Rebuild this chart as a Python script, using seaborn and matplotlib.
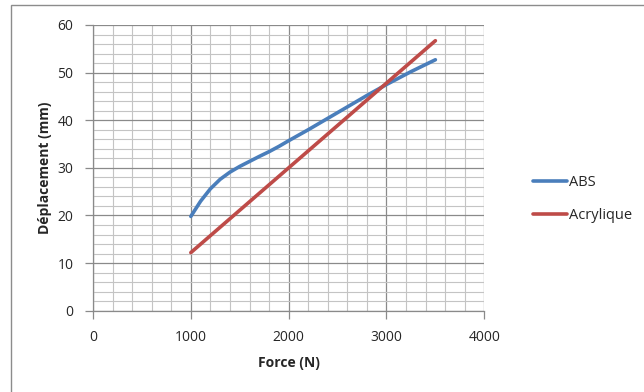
import matplotlib
matplotlib.use("Agg")
import matplotlib.pyplot as plt
from matplotlib.patches import Rectangle
from matplotlib.ticker import MultipleLocator
import pandas as pd
import seaborn as sns

# valeurs
force_abs = [1000, 1100, 1200, 1300, 1400, 1500, 1600, 1700, 1800, 1900, 2000,
             2200, 2400, 2600, 2800, 3000, 3250, 3500]
dep_abs = [19.8, 23.0, 25.6, 27.6, 29.1, 30.3, 31.35, 32.4, 33.4, 34.5, 35.7,
           38.0, 40.4, 42.8, 45.2, 47.5, 50.2, 52.7]

force_acr = [1000, 1500, 2000, 2500, 3000, 3500]
dep_acr = [12.2, 21.1, 30.0, 38.9, 47.8, 56.7]

series = ["ABS", "Acrylique"]
colors = ["#4A7EBB", "#BE4B48"]

df = pd.concat([
    pd.DataFrame({"Force": force_abs, "Dep": dep_abs, "Materiau": series[0]}),
    pd.DataFrame({"Force": force_acr, "Dep": dep_acr, "Materiau": series[1]}),
])

sns.set_style("white")
plt.rcParams["font.family"] = ["Open Sans", "DejaVu Sans"]

fig = plt.figure(figsize=(6.44, 3.92), dpi=100)
ax = fig.add_axes([93 / 644, 1 - 310.7 / 392, (484.3 - 93) / 644, (310.7 - 25) / 392])

# cadre du graphique (style Excel)
fig.patches.append(Rectangle((11 / 644, -0.1), 1.2, 1 - 5 / 392 + 0.1, transform=fig.transFigure,
                             fill=False, edgecolor="#8c8c8c", lw=1.0))

sns.lineplot(data=df, x="Force", y="Dep", hue="Materiau", palette=colors,
             linewidth=2.6, ax=ax, legend=False, sort=True)

ax.set_xlim(0, 4000)
ax.set_ylim(0, 60)
ax.xaxis.set_major_locator(MultipleLocator(1000))
ax.xaxis.set_minor_locator(MultipleLocator(200))
ax.yaxis.set_major_locator(MultipleLocator(10))
ax.yaxis.set_minor_locator(MultipleLocator(2))
ax.grid(which="major", color="#8a8a8a", lw=0.9)
ax.grid(which="minor", color="#c4c4c4", lw=0.8)
ax.set_axisbelow(True)

for s in ["top", "right"]:
    ax.spines[s].set_visible(False)
for s in ["left", "bottom"]:
    ax.spines[s].set_color("#8a8a8a")
    ax.spines[s].set_linewidth(0.9)

ax.tick_params(which="major", direction="out", length=6, width=0.9, color="#8a8a8a",
               labelsize=10, pad=8, left=True, bottom=True)
ax.tick_params(which="minor", length=0)

ax.set_xlabel("Force (N)", fontsize=10, fontweight="bold", labelpad=8)
ax.set_ylabel("Déplacement (mm)", fontsize=10, fontweight="bold", labelpad=4)

handles = [plt.Line2D([], [], color=c, lw=2.6) for c in colors]
fig.legend(handles, series, loc="center left", bbox_to_anchor=(520 / 644, 1 - 199 / 392),
           frameon=False, fontsize=10.5, handlelength=2.3, handletextpad=0.15, labelspacing=1.2)

fig.savefig("out.png", dpi=100)
